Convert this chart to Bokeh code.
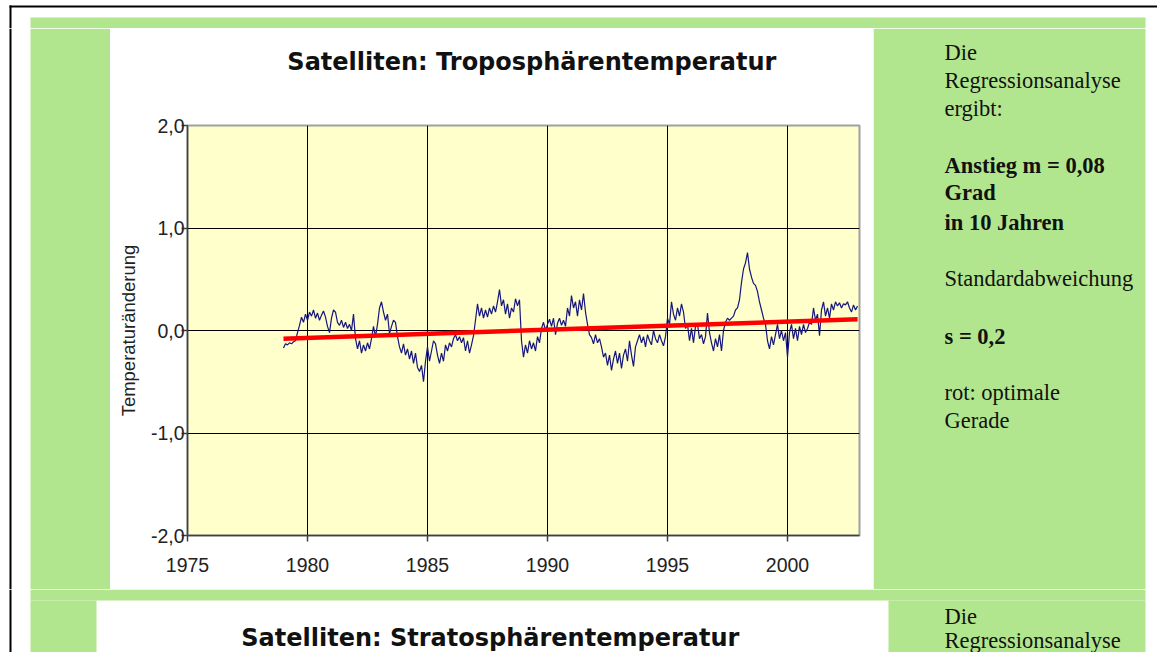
from bokeh.plotting import figure
from bokeh.layouts import row, column
from bokeh.models import Range1d, FixedTicker, Label
from bokeh.embed import file_html
from bokeh.resources import INLINE

# ---------------- data ----------------
start_year = 1979
anomaly = [
    # 1979
    -0.17, -0.13, -0.14, -0.12, -0.13, -0.11, -0.10, -0.02, 0.05, 0.13, 0.08, 0.16,
    # 1980
    0.10, 0.18, 0.14, 0.20, 0.12, 0.17, 0.10, 0.15, 0.19, 0.13, 0.04, -0.02,
    # 1981
    0.12, 0.20, 0.18, 0.08, 0.05, 0.10, 0.03, 0.08, 0.02, 0.06, 0.00, 0.16,
    # 1982
    -0.08, -0.18, -0.10, -0.22, -0.14, -0.20, -0.12, -0.18, -0.08, 0.04, -0.06, 0.06,
    # 1983
    0.22, 0.28, 0.18, 0.10, 0.16, -0.03, 0.04, 0.10, 0.08, -0.06, -0.16, -0.22,
    # 1984
    -0.13, -0.24, -0.18, -0.28, -0.20, -0.32, -0.22, -0.36, -0.40, -0.34, -0.50, -0.30,
    # 1985
    -0.16, -0.30, -0.20, -0.10, -0.13, -0.24, -0.32, -0.22, -0.30, -0.14, -0.20, -0.12,
    # 1986
    -0.16, -0.08, -0.04, -0.10, -0.06, -0.12, -0.07, -0.20, -0.10, -0.22, -0.14, -0.05,
    # 1987
    0.10, 0.26, 0.14, 0.22, 0.12, 0.20, 0.13, 0.22, 0.16, 0.24, 0.18, 0.28,
    # 1988
    0.40, 0.24, 0.30, 0.16, 0.26, 0.12, 0.22, 0.18, 0.31, 0.24, 0.30, -0.10,
    # 1989
    -0.26, -0.14, -0.22, -0.10, -0.18, -0.12, -0.20, -0.06, -0.12, 0.02, 0.08, 0.00,
    # 1990
    0.06, 0.11, 0.04, 0.12, -0.04, 0.07, 0.12, 0.05, 0.10, 0.04, 0.22, 0.14,
    # 1991
    0.34, 0.22, 0.28, 0.14, 0.30, 0.20, 0.36, 0.18, 0.06, -0.04, -0.07, -0.13,
    # 1992
    -0.04, -0.12, -0.08, -0.16, -0.26, -0.22, -0.34, -0.24, -0.39, -0.28, -0.20, -0.32,
    # 1993
    -0.22, -0.37, -0.24, -0.18, -0.30, -0.10, -0.24, -0.35, -0.16, -0.10, -0.04, -0.12,
    # 1994
    -0.06, -0.16, -0.04, -0.10, -0.14, 0.00, -0.08, -0.12, -0.04, -0.10, -0.15, -0.06,
    # 1995
    0.12, 0.06, 0.28, 0.16, 0.10, 0.22, 0.14, 0.26, 0.18, 0.02, 0.06, -0.10,
    # 1996
    0.02, -0.12, 0.04, 0.06, -0.08, -0.04, -0.13, -0.06, 0.17, -0.02, -0.12, -0.20,
    # 1997
    -0.08, -0.16, -0.04, -0.20, 0.00, 0.08, 0.12, 0.10, 0.12, 0.14, 0.20, 0.22,
    # 1998
    0.30, 0.47, 0.60, 0.66, 0.76, 0.60, 0.52, 0.46, 0.44, 0.38, 0.28, 0.20,
    # 1999
    0.12, 0.06, -0.10, -0.18, -0.06, -0.14, -0.04, 0.06, -0.08, 0.00, -0.10, -0.02,
    # 2000
    -0.26, -0.02, 0.06, -0.08, 0.02, -0.10, 0.04, -0.04, 0.06, -0.02, 0.02, 0.08,
    # 2001
    0.06, 0.22, 0.10, 0.16, -0.05, 0.20, 0.28, 0.14, 0.22, 0.12, 0.26, 0.20,
    # 2002
    0.28, 0.24, 0.27, 0.22, 0.26, 0.25, 0.28, 0.22, 0.18, 0.25, 0.20, 0.24,
]
months = [start_year + i / 12 for i in range(len(anomaly))]

trend_years = [1979.0, 2002.92]
trend_values = [-0.08, 0.11]

x_ticks = [1975, 1980, 1985, 1990, 1995, 2000]
x_tick_labels = ["1975", "1980", "1985", "1990", "1995", "2000"]
y_ticks = [-2, -1, 0, 1, 2]
y_tick_labels = ["-2,0", "-1,0", "0,0", "1,0", "2,0"]

title_1 = "Satelliten: Troposphärentemperatur"
title_2 = "Satelliten:  Stratosphärentemperatur"
y_label = "Temperaturänderung"
side_text = [
    ("Die", "normal"), ("Regressionsanalyse", "normal"), ("ergibt:", "normal"),
    ("Anstieg m = 0,08", "bold"), ("Grad", "bold"), ("in 10 Jahren", "bold"),
    ("Standardabweichung", "normal"), ("s = 0,2", "bold"),
    ("rot: optimale", "normal"), ("Gerade", "normal"),
]
side_text_2 = ["Die", "Regressionsanalyse"]

# ---------------- page layout ----------------
# positions are given as in the 1173x668 reference and scaled to the canvas
W, H = 1157, 652
KX, KY = W / 1173, H / 668


def cx(r):
    return int(round(r * KX))


def cy(r):
    return int(round(r * KY))


GREEN = "#b2e68e"
YELLOW = "#ffffcc"
SERIF = "Liberation Serif"


def deco(x0, x1, y0, y1):
    """A plain tile of the page, drawn in canvas pixel coordinates."""
    f = figure(width=x1 - x0, height=y1 - y0,
               x_range=Range1d(x0, x1), y_range=Range1d(y1, y0),
               output_backend="svg", toolbar_location=None, title=None,
               x_axis_location=None, y_axis_location=None,
               min_border=0, min_border_left=0, min_border_right=0,
               min_border_top=0, min_border_bottom=0)
    f.grid.visible = False
    f.outline_line_color = None
    f.background_fill_color = "white"
    f.border_fill_color = "white"
    return f


def box(f, l, t, r, b, color):
    f.quad(left=[l], right=[r], top=[t], bottom=[b],
           fill_color=color, line_color=None)


def text(f, x, y, s, size, font, style="normal", align="left"):
    f.add_layout(Label(x=x, y=y, text=s, text_align=align,
                       text_baseline="alphabetic", text_font=font,
                       text_font_style=style, text_font_size=size,
                       text_color="#111111"))


# key positions (reference pixels -> canvas pixels)
LINE_X0, LINE_X1 = cx(9), cx(11)        # black frame of the page (left)
LINE_Y0, LINE_Y1 = cy(5), cy(7)         # black frame of the page (top)
GX0, GX1, GY0 = cx(30), cx(1161), cy(17)  # green area
BX0, BX1, BY0, BY1 = cx(112), cx(885), cy(29), cy(603)  # white chart box
B2X0, B2X1, B2Y0 = cx(97), cx(900), cy(615)             # next chart box
FL, FR, FT, FB = cx(190), cx(871), cy(128), cy(548)     # plot area
TX = cx(957)                                              # side text x
TITLE_BOTTOM = cy(97)

# top strip
top = deco(0, W, 0, BY0)
box(top, GX0, GY0, GX1, BY0, GREEN)
box(top, LINE_X0, LINE_Y0, W, LINE_Y1, "black")
box(top, LINE_X0, LINE_Y0, LINE_X1, BY0, "black")

# left strip
left = deco(0, BX0, BY0, BY1)
box(left, GX0, BY0, BX0, BY1, GREEN)
box(left, LINE_X0, BY0, LINE_X1, BY1, "black")

# right strip with the side text
right = deco(BX1, W, BY0, BY1)
box(right, BX1, BY0, GX1, BY1, GREEN)
side_y = [53, 82, 111, 169, 197, 227, 285, 344, 402, 430]
for (s, style), y in zip(side_text, side_y):
    text(right, TX, cy(y), s, "22.5px", SERIF, style)

# title strip
ttl = deco(BX0, BX1, BY0, TITLE_BOTTOM)
text(ttl, cx(508), cy(63), title_1, "24px", "DejaVu Sans", "bold", "center")

# bottom strip (start of the next chart)
bot = deco(0, W, BY1, H)
box(bot, GX0, BY1, GX1, B2Y0, GREEN)
box(bot, GX0, B2Y0, B2X0, H, GREEN)
box(bot, B2X1, B2Y0, GX1, H, GREEN)
box(bot, LINE_X0, BY1, LINE_X1, H, "black")
text(bot, cx(501), cy(653), title_2, "24px", "DejaVu Sans", "bold", "center")
# the second side text is nudged up so that it stays inside the canvas
for s, y in zip(side_text_2, [616, 640]):
    text(bot, TX, y, s, "22.5px", SERIF)

# ---------------- the chart itself ----------------
p = figure(width=BX1 - BX0, height=BY1 - TITLE_BOTTOM,
           x_range=Range1d(1975, 2003), y_range=Range1d(-2, 2),
           output_backend="svg", toolbar_location=None, title=None,
           min_border_left=FL - BX0, min_border_right=BX1 - FR,
           min_border_top=FT - TITLE_BOTTOM, min_border_bottom=BY1 - FB)
p.background_fill_color = YELLOW
p.border_fill_color = "white"
p.outline_line_color = "#a0a0a0"
p.outline_line_width = 2

p.line(months, anomaly, line_color="#16167f", line_width=1.2)
p.line(trend_years, trend_values, line_color="#ff0000", line_width=4.5)

p.xaxis.ticker = FixedTicker(ticks=x_ticks)
p.yaxis.ticker = FixedTicker(ticks=y_ticks)
p.xaxis.major_label_overrides = dict(zip(x_ticks, x_tick_labels))
p.yaxis.major_label_overrides = dict(zip(y_ticks, y_tick_labels))
for ax in (p.xaxis, p.yaxis):
    ax.axis_line_color = "#404040"
    ax.axis_line_width = 1.5
    ax.major_tick_line_color = "#404040"
    ax.major_tick_line_width = 1.5
    ax.major_tick_in = 0
    ax.major_tick_out = 6
    ax.minor_tick_line_color = None
    ax.major_label_text_font = "Liberation Sans"
    ax.major_label_text_font_size = "19.5px"
    ax.major_label_text_color = "#222222"
p.xaxis.major_label_standoff = 16
p.yaxis.major_label_standoff = -3
p.yaxis.axis_label = y_label
p.yaxis.axis_label_text_font = "Liberation Sans"
p.yaxis.axis_label_text_font_style = "normal"
p.yaxis.axis_label_text_font_size = "18.5px"
p.yaxis.axis_label_text_color = "#222222"
p.yaxis.axis_label_standoff = 9

p.xgrid.grid_line_color = "black"
p.ygrid.grid_line_color = "black"
p.xgrid.grid_line_width = 1
p.ygrid.grid_line_width = 1

page = column(top,
              row(left, column(ttl, p, spacing=0), right, spacing=0),
              bot, spacing=0)

open("out.html", "w").write(file_html(page, INLINE))
